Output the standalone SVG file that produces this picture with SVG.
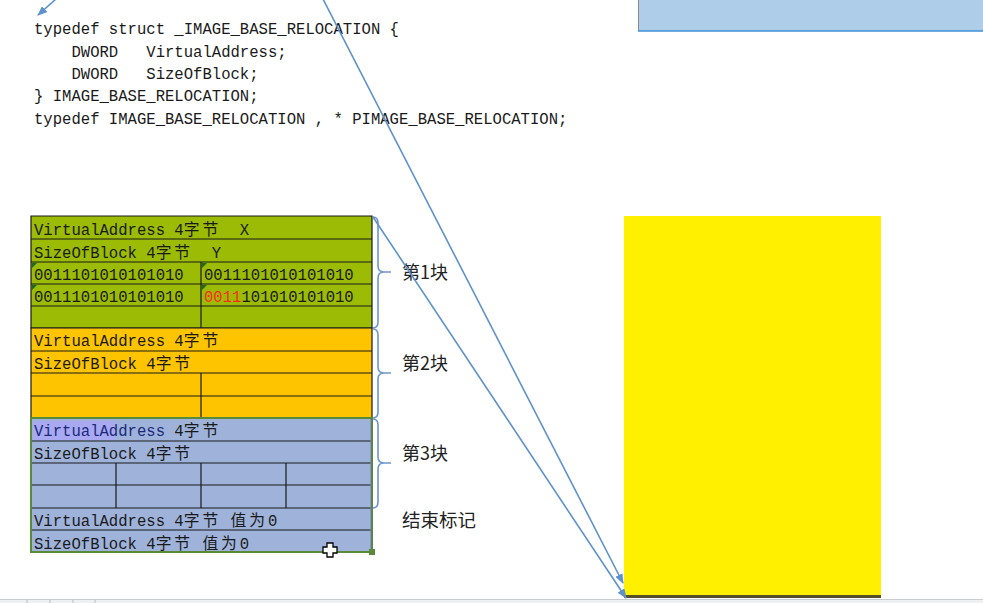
<svg xmlns="http://www.w3.org/2000/svg" width="983" height="603" viewBox="0 0 983 603">
<defs>
<marker id="ah" markerWidth="10" markerHeight="8" refX="9" refY="4" orient="auto" markerUnits="userSpaceOnUse">
<path d="M0,0 L10,4 L0,8 Z" fill="#5f92cc"/>
</marker>
<style>
.code{font-family:"Liberation Mono","Noto Sans CJK SC",monospace;font-size:15.6px;fill:#1a1a1a;white-space:pre}
.cell{font-family:"Liberation Mono","Noto Sans CJK SC",monospace;font-size:15.6px;fill:#1a1a1a;white-space:pre}
.cjk{font-family:"Noto Sans CJK SC",sans-serif;font-size:15.8px;letter-spacing:2.9px}
.lbl{font-family:"Noto Sans CJK SC","Noto Sans",sans-serif;font-size:18px;fill:#222}
.grid{stroke:#1a1a1a;stroke-width:1.2;fill:none}
.brace{stroke:#6b97cc;stroke-width:1.6;fill:none}
.conn{stroke:#5f92cc;stroke-width:1.6;fill:none}
</style>
</defs>
<rect width="983" height="603" fill="#ffffff"/>

<!-- top right blue panel -->
<g id="panel">
<rect x="638" y="-2" width="347" height="33" fill="#aecde9"/>
<line x1="638.5" y1="0" x2="638.5" y2="31" stroke="#8a8a8a" stroke-width="1"/>
<line x1="638" y1="31" x2="983" y2="31" stroke="#3d8fd8" stroke-width="1.5"/>
</g>

<!-- code text -->
<g id="code">
<text class="code" x="34" y="34">typedef struct _IMAGE_BASE_RELOCATION {</text>
<text class="code" x="34" y="57">    DWORD   VirtualAddress;</text>
<text class="code" x="34" y="79">    DWORD   SizeOfBlock;</text>
<text class="code" x="34" y="101">} IMAGE_BASE_RELOCATION;</text>
<text class="code" x="34" y="124">typedef IMAGE_BASE_RELOCATION , * PIMAGE_BASE_RELOCATION;</text>
</g>

<!-- block 1 (green) -->
<g id="block1">
<rect x="31" y="216" width="341" height="112" fill="#9bbb05"/>
<path class="grid" d="M31,216 H372 V328 H31 Z M31,239 H372 M31,262 H372 M31,284 H372 M31,306 H372 M201,262 V328"/>
<polygon points="32,263 37,263 32,268" fill="#1f6a1f"/>
<polygon points="202,263 207,263 202,268" fill="#1f6a1f"/>
<polygon points="32,285 37,285 32,290" fill="#1f6a1f"/>
<polygon points="202,285 207,285 202,290" fill="#1f6a1f"/>
<text class="cell" x="34" y="235">VirtualAddress 4<tspan class="cjk">字节</tspan>  X</text>
<text class="cell" x="34" y="258">SizeOfBlock 4<tspan class="cjk">字节</tspan>  Y</text>
<text class="cell" x="34" y="280">0011101010101010</text>
<text class="cell" x="204" y="280">0011101010101010</text>
<text class="cell" x="34" y="302">0011101010101010</text>
<text class="cell" x="204" y="302"><tspan fill="#ff2a1a">0011</tspan>101010101010</text>
</g>

<!-- block 2 (orange) -->
<g id="block2">
<rect x="31" y="328" width="341" height="90" fill="#ffc400"/>
<path class="grid" d="M31,328 H372 V418 H31 Z M31,351 H372 M31,373 H372 M31,396 H372 M201,373 V418"/>
<text class="cell" x="34" y="346">VirtualAddress 4<tspan class="cjk">字节</tspan></text>
<text class="cell" x="34" y="369">SizeOfBlock 4<tspan class="cjk">字节</tspan></text>
</g>

<!-- block 3 + end marker (blue) -->
<g id="block3">
<rect x="31" y="418" width="341" height="134" fill="#9fb3da"/>
<rect x="33" y="421" width="82" height="19" fill="#a9a9f2"/>
<path class="grid" d="M31,441 H372 M31,463 H372 M31,485 H372 M31,508 H372 M31,530 H372 M116,463 V508 M201,463 V508 M286,463 V508"/>
<line x1="371" y1="419" x2="371" y2="551" stroke="#7b7bf0" stroke-width="1.2"/>
<rect x="31" y="418" width="341" height="134" fill="none" stroke="#5a8a36" stroke-width="2"/>
<rect x="369" y="549" width="6" height="6" fill="#5a8a36"/>
<text class="cell" x="34" y="436"><tspan fill="#1c2a7a">VirtualAddress</tspan> 4<tspan class="cjk">字节</tspan></text>
<text class="cell" x="34" y="459">SizeOfBlock 4<tspan class="cjk">字节</tspan></text>
<text class="cell" x="34" y="526">VirtualAddress 4<tspan class="cjk">字节</tspan> <tspan class="cjk">值为</tspan>0</text>
<text class="cell" x="34" y="549">SizeOfBlock 4<tspan class="cjk">字节</tspan> <tspan class="cjk">值为</tspan>0</text>
</g>

<!-- braces and labels -->
<g id="brace1">
<path class="brace" d="M373,217 Q378,217 378,223 L378,266 Q378,272 384,272 L391,272 M384,272 Q378,272 378,278 L378,322 Q378,328 373,328"/>
<text class="lbl" x="402" y="279">第1块</text>
</g>
<g id="brace2">
<path class="brace" d="M373,329 Q378,329 378,335 L378,367 Q378,373 384,373 L391,373 M384,373 Q378,373 378,379 L378,412 Q378,418 373,418"/>
<text class="lbl" x="402" y="370">第2块</text>
</g>
<g id="brace3">
<path class="brace" d="M373,419 Q378,419 378,425 L378,457 Q378,463 384,463 L391,463 M384,463 Q378,463 378,469 L378,502 Q378,508 373,508"/>
<text class="lbl" x="402" y="460">第3块</text>
</g>
<g id="endmark">
<text class="lbl" x="402" y="527" style="font-size:18.5px">结束标记</text>
</g>

<!-- yellow memory block -->
<g id="memory">
<rect x="624" y="216" width="257" height="381" fill="#fff000"/>
<rect x="624" y="595" width="257" height="3" fill="#55502a"/>
</g>

<!-- connectors -->
<g id="connectors">
<line class="conn" x1="56" y1="-1" x2="38" y2="15" marker-end="url(#ah)"/>
<line class="conn" x1="323" y1="-1" x2="623" y2="583" marker-end="url(#ah)"/>
<line class="conn" x1="373" y1="217" x2="626" y2="598" marker-end="url(#ah)"/>
</g>

<!-- bottom status strip -->
<g id="statusbar">
<rect x="0" y="599" width="983" height="4" fill="#eef0f2"/>
<line x1="0" y1="599.5" x2="983" y2="599.5" stroke="#c8ccd0" stroke-width="1"/>
<path d="M27,600 V603 M50,600 V603 M73,600 V603 M95,600 V603" stroke="#b8bcc0" stroke-width="1"/>
</g>

<!-- mouse cursor -->
<g id="cursor">
<path d="M327,543 H333 V547 H337 V553 H333 V557 H327 V553 H323 V547 H327 Z" fill="#ffffff" stroke="#000" stroke-width="1.3"/>
</g>
</svg>
